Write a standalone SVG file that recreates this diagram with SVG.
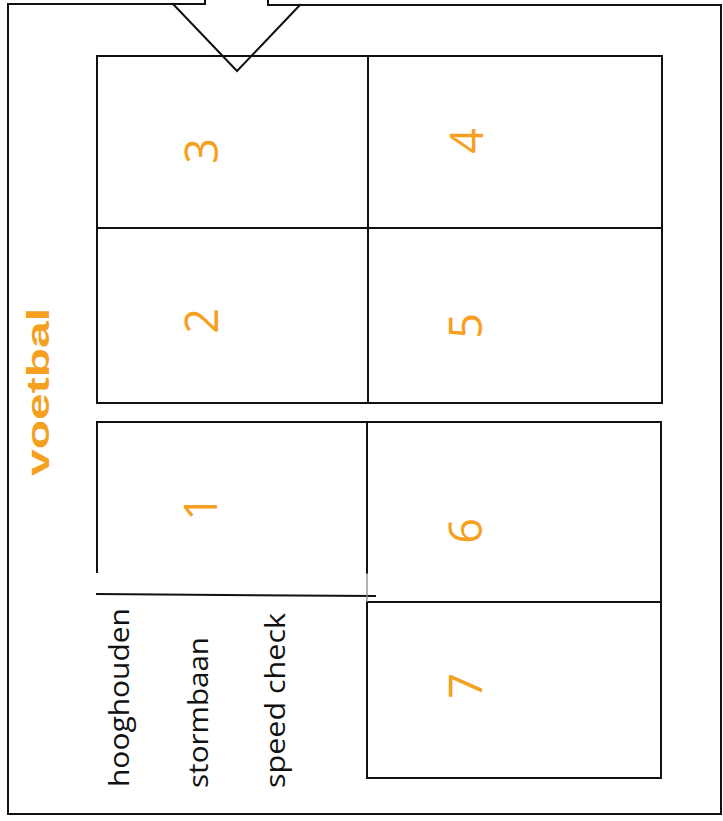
<svg xmlns="http://www.w3.org/2000/svg" width="723" height="821" viewBox="0 0 723 821">
<style>
.ln{fill:none;stroke:#111;stroke-width:2;stroke-linecap:square}
.num{font-family:"Open Sans","Liberation Sans",sans-serif;font-weight:400;font-size:45px;fill:#F5A01E;text-anchor:middle}
.lbl{font-family:"Open Sans","Liberation Sans",sans-serif;font-size:27px;fill:#111}
.title{font-family:"Liberation Sans",Arial,sans-serif;font-weight:bold;font-size:31px;fill:#F5A01E}
</style>
<rect width="723" height="821" fill="#fff"/>
<g id="frame">
<path class="ln" d="M8,4 H205 V0 M268,0 V5 H721 V814 H8 V4"/>
</g>
<g id="arrow">
<path class="ln" d="M173,4 L237,71 L300,5" stroke-linejoin="miter"/>
</g>
<g id="connectors">
<path class="ln" d="M97,56 H662 V403 H97 Z M97,228 H662 M368,56 V403"/>
<path class="ln" d="M97,572 V422 H661 V778 H367 V602 H661 M367,422 V573 M97,594 L375,596"/>
<path d="M367,573 V602" stroke="#888" stroke-width="1.3" fill="none"/>
</g>
<g id="title"><text class="title" transform="translate(49,476) rotate(-90)" textLength="168" lengthAdjust="spacingAndGlyphs">voetbal</text></g>
<g id="node3"><text class="num" transform="translate(218,151) rotate(-90)">3</text></g>
<g id="node2"><text class="num" transform="translate(218,321) rotate(-90)">2</text></g>
<g id="node1"><text class="num" transform="translate(217,508) rotate(-90)">1</text></g>
<g id="node4"><text class="num" transform="translate(483,141) rotate(-90)">4</text></g>
<g id="node5"><text class="num" transform="translate(482,326) rotate(-90)">5</text></g>
<g id="node6"><text class="num" transform="translate(482,531) rotate(-90)">6</text></g>
<g id="node7"><text class="num" transform="translate(482,686) rotate(-90)">7</text></g>
<g id="legend">
<text class="lbl" transform="translate(129,787) rotate(-90)" textLength="179" lengthAdjust="spacingAndGlyphs">hooghouden</text>
<text class="lbl" transform="translate(208,788) rotate(-90)" textLength="151" lengthAdjust="spacingAndGlyphs">stormbaan</text>
<text class="lbl" transform="translate(285,788) rotate(-90)" textLength="175" lengthAdjust="spacingAndGlyphs">speed check</text>
</g>
</svg>
